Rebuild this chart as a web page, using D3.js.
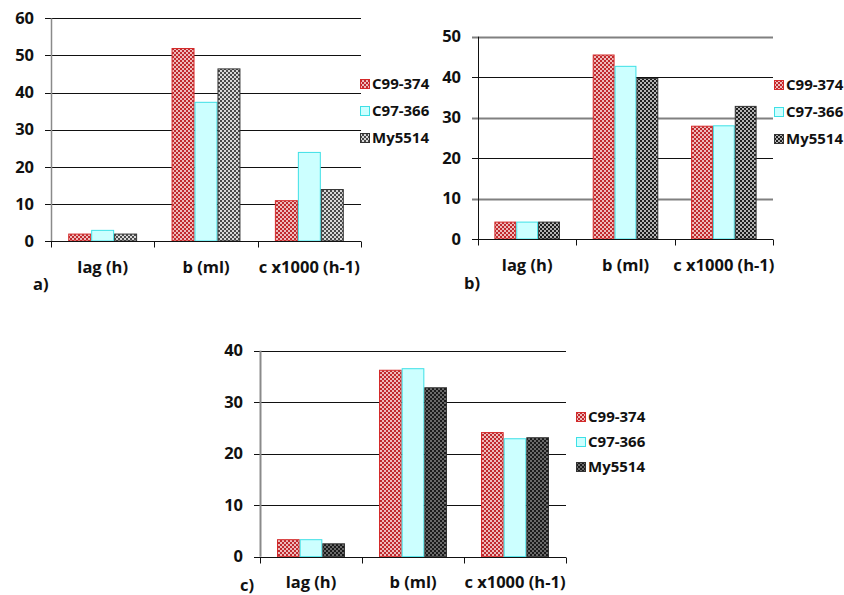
<!DOCTYPE html>
<html>
<head>
<meta charset="utf-8">
<script src="https://cdn.jsdelivr.net/npm/d3@7"></script>
<style>
  html, body { margin: 0; padding: 0; background: #fff; }
  svg { display: block; }
  text { font-family: "Open Sans", "Liberation Sans", sans-serif; font-weight: bold; fill: #111; }
</style>
</head>
<body>
<svg id="fig" width="844" height="595"></svg>
<script>
// Growth parameters per strain
const categories = ["lag (h)", "b (ml)", "c x1000 (h-1)"];
const strains = ["C99-374", "C97-366", "My5514"];

// panel a)
const aC99 = [2, 52, 11];
const aC97 = [3, 37.5, 24];
const aMy  = [2, 46.5, 14];
const aTicks = [0, 10, 20, 30, 40, 50, 60];

// panel b)
const bC99 = [4.3, 45.6, 28];
const bC97 = [4.3, 42.8, 28.1];
const bMy  = [4.3, 39.8, 32.9];
const bTicks = [0, 10, 20, 30, 40, 50];

// panel c)
const cC99 = [3.4, 36.3, 24.2];
const cC97 = [3.4, 36.6, 23.0];
const cMy  = [2.6, 32.9, 23.2];
const cTicks = [0, 10, 20, 30, 40];

const panelLabels = ["a)", "b)", "c)"];

const svg = d3.select("#fig");
const defs = svg.append("defs");

// small checkerboard fills
function checker(id, fg, bg) {
  const p = defs.append("pattern")
    .attr("id", id).attr("patternUnits", "userSpaceOnUse")
    .attr("width", 4).attr("height", 4);
  p.append("rect").attr("width", 4).attr("height", 4).attr("fill", bg);
  p.append("rect").attr("width", 2).attr("height", 2).attr("fill", fg);
  p.append("rect").attr("x", 2).attr("y", 2).attr("width", 2).attr("height", 2).attr("fill", fg);
}
checker("redChk", "#c02a2e", "#eebcbc");
checker("grayChkA", "#4a4a4a", "#d8d8d8");
checker("grayChkB", "#1e1e1e", "#b4b4b4");
checker("grayChkC", "#1a1a1a", "#6a6a6a");

const FS = "16.5px";

function drawPanel(opt) {
  const g = svg.append("g");
  const x = d3.scaleBand().domain(categories).range([opt.left, opt.right]);
  const y = d3.scaleLinear().domain([0, d3.max(opt.ticks)]).range([opt.bottom, opt.top]);
  const groupW = x.bandwidth() * 2 / 3;
  const xs = d3.scaleBand().domain(strains).range([0, groupW]);

  // gridlines (with short tick stubs left of the axis)
  const grid = g.append("g");
  opt.ticks.forEach((t, i) => {
    if (t === 0) return;
    const st = opt.gridStyle(i);
    grid.append("line")
      .attr("x1", opt.left - 6).attr("x2", opt.right)
      .attr("y1", Math.round(y(t)) + 0.5).attr("y2", Math.round(y(t)) + 0.5)
      .attr("stroke", st.color).attr("stroke-width", st.width);
  });

  // y tick labels
  g.append("g").selectAll("text").data(opt.ticks).join("text")
    .attr("x", opt.left - 17).attr("y", d => y(d))
    .attr("dy", "0.35em").attr("text-anchor", "end")
    .style("font-size", FS).text(d => d);

  // bars
  const series = [
    { name: strains[0], vals: opt.s1, fill: "url(#redChk)", stroke: "#d42a2a" },
    { name: strains[1], vals: opt.s2, fill: "#ccffff", stroke: "#3ee0e6" },
    { name: strains[2], vals: opt.s3, fill: opt.grayFill, stroke: "#333" }
  ];
  series.forEach(s => {
    g.append("g").selectAll("rect").data(categories).join("rect")
      .attr("x", (c) => x(c) + (x.bandwidth() - groupW) / 2 + xs(s.name) + 0.5)
      .attr("y", (c, i) => y(s.vals[i]) + 0.5)
      .attr("width", xs.bandwidth() - 1)
      .attr("height", (c, i) => y(0) - y(s.vals[i]) - 0.5)
      .attr("fill", s.fill).attr("stroke", s.stroke).attr("stroke-width", 1);
  });

  // y axis line
  g.append("line")
    .attr("x1", opt.left + 0.5).attr("x2", opt.left + 0.5)
    .attr("y1", opt.top).attr("y2", opt.bottom)
    .attr("stroke", opt.axisColor).attr("stroke-width", opt.axisWidth);

  // x axis with category boundary ticks
  const xAxis = d3.axisBottom(x).tickSize(0).tickFormat("");
  const ax = g.append("g").attr("transform", `translate(0,${Math.round(opt.bottom) + 0.5})`).call(xAxis);
  ax.select(".domain").remove();
  ax.append("line").attr("x1", opt.left - 6).attr("x2", opt.right).attr("stroke", "#111");
  const bounds = [opt.left].concat(categories.map(c => x(c) + x.bandwidth()));
  ax.selectAll(".bt").data(bounds).join("line").attr("class", "bt")
    .attr("x1", d => Math.round(d) + 0.5).attr("x2", d => Math.round(d) + 0.5)
    .attr("y1", 0).attr("y2", 6).attr("stroke", "#111");

  // category labels
  g.append("g").selectAll("text").data(categories).join("text")
    .attr("x", c => x(c) + x.bandwidth() / 2).attr("y", opt.bottom + 26)
    .attr("dy", "0.35em").attr("text-anchor", "middle")
    .style("font-size", FS).text(c => c);

  // panel letter
  g.append("text").attr("x", opt.letterX).attr("y", opt.letterY)
    .attr("dy", "0.35em").style("font-size", FS).text(opt.letter);

  // legend
  const lg = g.append("g");
  series.forEach((s, i) => {
    const ly = opt.legendY[i];
    lg.append("rect").attr("x", opt.legendX + 0.5).attr("y", ly - 4.5)
      .attr("width", 9).attr("height", 9)
      .attr("fill", s.fill).attr("stroke", s.stroke);
    lg.append("text").attr("x", opt.legendX + 12).attr("y", ly)
      .attr("dy", "0.35em").style("font-size", "15px").text(s.name);
  });
}

drawPanel({
  left: 51, right: 361, top: 18.3, bottom: 241,
  ticks: aTicks, s1: aC99, s2: aC97, s3: aMy, grayFill: "url(#grayChkA)",
  gridStyle: () => ({ color: "#111", width: 1 }),
  axisColor: "#8a8a8a", axisWidth: 1.5,
  letter: panelLabels[0], letterX: 33, letterY: 284,
  legendX: 360, legendY: [84, 111, 138]
});

drawPanel({
  left: 478, right: 773, top: 36.7, bottom: 239,
  ticks: bTicks, s1: bC99, s2: bC97, s3: bMy, grayFill: "url(#grayChkB)",
  gridStyle: i => (i % 2 === 1 ? { color: "#808080", width: 2 } : { color: "#111", width: 1 }),
  axisColor: "#111", axisWidth: 1,
  letter: panelLabels[1], letterX: 464, letterY: 283,
  legendX: 774, legendY: [85, 112, 139]
});

drawPanel({
  left: 260, right: 566, top: 350.7, bottom: 556.7,
  ticks: cTicks, s1: cC99, s2: cC97, s3: cMy, grayFill: "url(#grayChkC)",
  gridStyle: () => ({ color: "#111", width: 1 }),
  axisColor: "#8a8a8a", axisWidth: 2,
  letter: panelLabels[2], letterX: 240, letterY: 585,
  legendX: 576, legendY: [417, 442, 467]
});
</script>
</body>
</html>
